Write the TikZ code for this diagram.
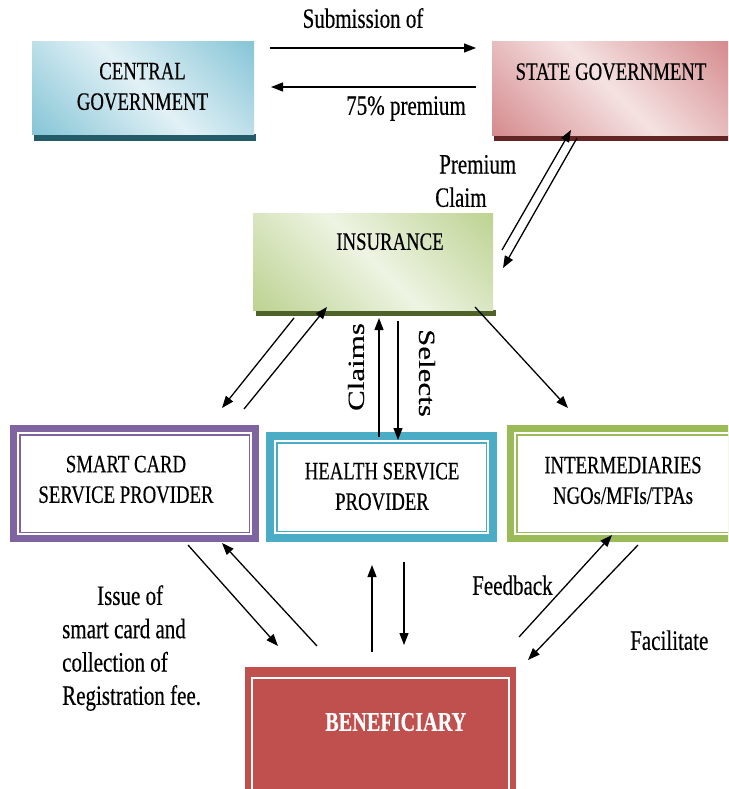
\documentclass[tikz,border=0pt]{standalone}
\usepackage{fontspec}
\setmainfont{Liberation Serif}[FakeStretch=0.75,FakeBold=0.35]
\newfontfamily\uprightserif{Liberation Serif}[FakeBold=0.35]
\usetikzlibrary{arrows.meta}

\definecolor{cgdark}{HTML}{86C5D6}
\definecolor{cglight}{HTML}{E2F1F6}
\definecolor{cgshadow}{HTML}{245B69}
\definecolor{sgdark}{HTML}{D4878A}
\definecolor{sglight}{HTML}{F5E2E2}
\definecolor{sgshadow}{HTML}{632523}
\definecolor{insdark}{HTML}{BCD291}
\definecolor{inslight}{HTML}{EEF4E3}
\definecolor{insshadow}{HTML}{4F6228}
\definecolor{purpleband}{HTML}{8064A2}
\definecolor{tealband}{HTML}{4BACC6}
\definecolor{greenband}{HTML}{9BBB59}
\definecolor{redfill}{HTML}{C0504D}

\begin{document}
\begin{tikzpicture}[x=1pt,y=-1pt,
  arr/.style={line width=1.3pt,-{Triangle[length=12pt,width=9pt]}},
  boxtext/.style={inner sep=0pt,text depth=0pt,align=center,
                  font=\fontsize{25}{30.5}\selectfont},
  lbl/.style={inner sep=0pt,text depth=0pt,
              font=\fontsize{28}{33.3}\selectfont},
  boxframe/.style={anchor=north west,inner sep=0pt},
  diagshade/.style 2 args={top color=#1,bottom color=#1,middle color=#2,
                           shading angle=-45},
  rottext/.style={inner sep=0pt,font=\uprightserif\fontsize{31}{31}\selectfont},
]
\useasboundingbox (0,0) rectangle (728,789);
\clip (0,0) rectangle (728,789);
\fill[white] (0,0) rectangle (728,789);

% ---- top row: governments ----
\fill[cgshadow] (34,134) rectangle (256,141);
\begin{scope}
  \clip (32,42) rectangle (254,134);
  \shade[diagshade={cgdark}{cglight}] (32,-23) rectangle (254,199);
\end{scope}
\node[boxframe,minimum width=222pt,minimum height=92pt] (cg) at (32,42) {};
\node[boxtext,anchor=south] (cgtext) at (142.5,110) {CENTRAL\\GOVERNMENT};

\fill[sgshadow] (494,135) rectangle (800,141);
\begin{scope}
  \clip (492,42) rectangle (800,135);
  \shade[diagshade={sgdark}{sglight}] (492,-30) rectangle (736,214);
\end{scope}
\node[boxframe,minimum width=300pt,minimum height=93pt] (sg) at (492,42) {};
\node[boxtext,anchor=south] (sgtext) at (611,80) {STATE GOVERNMENT};

% ---- insurance ----
\fill[insshadow] (256,310) rectangle (496,316);
\begin{scope}
  \clip (253,213) rectangle (493,310);
  \shade[diagshade={insdark}{inslight}] (253,141) rectangle (493,381);
\end{scope}
\node[boxframe,minimum width=240pt,minimum height=97pt] (ins) at (253,213) {};
\node[boxtext,anchor=south] (instext) at (390,250) {INSURANCE};

% ---- service providers ----
\node[boxframe,fill=purpleband,minimum width=249pt,minimum height=117pt] (sc) at (10,425) {};
\fill[white] ([shift={(7,7)}]sc.north west) rectangle ([shift={(-7,-7)}]sc.south east);
\draw[purpleband,line width=1.5pt] ([shift={(10,10)}]sc.north west) rectangle ([shift={(-10,-10)}]sc.south east);
\node[boxtext,anchor=south] (sctext) at (126,503) {SMART CARD\\SERVICE PROVIDER};

\node[boxframe,fill=tealband,minimum width=231pt,minimum height=110pt] (hs) at (266,432) {};
\fill[white] ([shift={(8,8)}]hs.north west) rectangle ([shift={(-8,-8)}]hs.south east);
\draw[tealband,line width=1.5pt] ([shift={(11,11)}]hs.north west) rectangle ([shift={(-11,-11)}]hs.south east);
\node[boxtext,anchor=south] (hstext) at (382,510) {HEALTH SERVICE\\PROVIDER};

\node[boxframe,fill=greenband,minimum width=300pt,minimum height=117pt] (im) at (507,425) {};
\fill[white] ([shift={(7,7)}]im.north west) rectangle ([shift={(-7,-7)}]im.south east);
\draw[greenband,line width=1.5pt] ([shift={(10,10)}]im.north west) rectangle ([shift={(-10,-10)}]im.south east);
\node[boxtext,anchor=south] (imtext) at (623,504) {INTERMEDIARIES\\NGOs/MFIs/TPAs};

% ---- beneficiary ----
\node[boxframe,fill=redfill,minimum width=271pt,minimum height=130pt] (ben) at (245,667) {};
\draw[white,line width=2pt] ([shift={(7,11)}]ben.north west) rectangle ([shift={(-7,17)}]ben.south east);
\node[anchor=south west,inner sep=0pt,text depth=0pt,text=white,
      font=\bfseries\fontsize{27}{30}\selectfont] (bentext) at (325,731) {BENEFICIARY};

% ---- connector end points ----
\coordinate (cgR1) at (270,48);   \coordinate (sgL1) at (476,48);
\coordinate (sgL2) at (476,87);   \coordinate (cgR2) at (271,87);
\coordinate (insNE1) at (502,250); \coordinate (sgS1) at (571,130);
\coordinate (sgS2) at (577,138);   \coordinate (insNE2) at (503,268);
\coordinate (insSW1) at (294,318); \coordinate (scN1) at (222,408);
\coordinate (scN2) at (244,409);   \coordinate (insSW2) at (327,307);
\coordinate (hsN1) at (379,437);   \coordinate (insS1) at (379,318);
\coordinate (insS2) at (398,321);  \coordinate (hsN2) at (398,440);
\coordinate (insSE) at (475,307);  \coordinate (imN) at (568,408);
\coordinate (scS1) at (188,545);   \coordinate (benNW1) at (278,646);
\coordinate (benNW2) at (317,646); \coordinate (scS2) at (222,543);
\coordinate (benN1) at (372,652);  \coordinate (hsS1) at (372,565);
\coordinate (hsS2) at (404,562);   \coordinate (benN2) at (404,645);
\coordinate (benNE1) at (519,637); \coordinate (imS1) at (612,535);
\coordinate (imS2) at (638,545);   \coordinate (benNE2) at (528,660);

% ---- connectors ----
\draw[arr] (cgR1) -- (sgL1);
\draw[arr] (sgL2) -- (cgR2);
\draw[arr] (insNE1) -- (sgS1);
\draw[arr] (sgS2) -- (insNE2);
\draw[arr] (insSW1) -- (scN1);
\draw[arr] (scN2) -- (insSW2);
\draw[arr] (hsN1) -- (insS1);
\draw[arr] (insS2) -- (hsN2);
\draw[arr] (insSE) -- (imN);
\draw[arr] (scS1) -- (benNW1);
\draw[arr] (benNW2) -- (scS2);
\draw[arr] (benN1) -- (hsS1);
\draw[arr] (hsS2) -- (benN2);
\draw[arr] (benNE1) -- (imS1);
\draw[arr] (imS2) -- (benNE2);

% ---- labels ----
\node[lbl,anchor=south] (sub) at (363,28) {Submission of};
\node[lbl,anchor=south] (prem75) at (406,115) {75\% premium};
\node[lbl,anchor=south west,align=left] (pc) at (435,207) {\hspace*{4pt}Premium\\Claim};
\node[rottext,rotate=90] (claims) at (356,367) {\scalebox{1}[0.75]{Claims}};
\node[rottext,rotate=-90] (selects) at (427,373) {\scalebox{1}[0.75]{Selects}};
\node[lbl,anchor=south west,align=left] (issue) at (62,705)
  {\hspace*{35pt}Issue of\\smart card and\\collection of\\Registration fee.};
\node[lbl,anchor=south west] (fb) at (472,595) {Feedback};
\node[lbl,anchor=south west] (fac) at (630,650) {Facilitate};
\end{tikzpicture}
\end{document}
